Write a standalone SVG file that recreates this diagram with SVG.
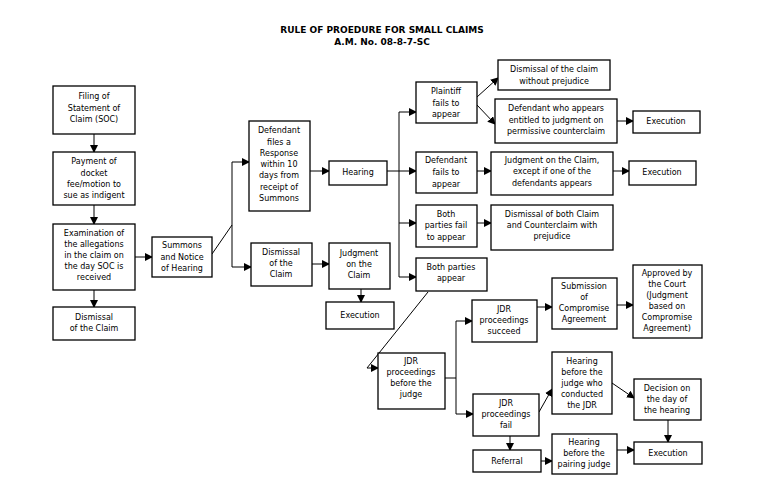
<svg xmlns="http://www.w3.org/2000/svg" width="768" height="503" viewBox="0 0 768 503">
<style>
rect{fill:#fff;stroke:#000;stroke-width:1.3}
text{font-family:"DejaVu Sans",sans-serif;font-size:8px;fill:#000;text-anchor:middle}
.t{font-weight:bold;font-size:9px}
#c line,#c polyline{stroke:#000;stroke-width:1;fill:none}
.a{marker-end:url(#ah)}
</style>
<defs><marker id="ah" markerWidth="8" markerHeight="8" refX="7" refY="4" orient="auto" markerUnits="userSpaceOnUse"><path d="M0,0L8,4L0,8Z" fill="#000"/></marker></defs>
<rect x="0" y="0" width="768" height="503" style="stroke:none"/>
<text class="t" x="382" y="33">RULE OF PROEDURE FOR SMALL CLAIMS</text>
<text class="t" x="382" y="45">A.M. No. 08-8-7-SC</text>
<g id="c">
<line class="a" x1="94" y1="134" x2="94" y2="152"/>
<line class="a" x1="94" y1="205" x2="94" y2="224"/>
<line class="a" x1="94" y1="290" x2="94" y2="307"/>
<line class="a" x1="135" y1="257" x2="152" y2="257"/>
<polyline points="212,254 232,225"/>
<polyline points="232,162 232,267"/>
<line class="a" x1="232" y1="162" x2="249" y2="162"/>
<line class="a" x1="232" y1="267" x2="251" y2="267"/>
<line class="a" x1="310" y1="171" x2="329" y2="171"/>
<line class="a" x1="312" y1="264" x2="329" y2="264"/>
<line class="a" x1="361" y1="289" x2="361" y2="302"/>
<polyline points="387,171 399,171"/>
<polyline points="399,112 399,277"/>
<line class="a" x1="399" y1="112" x2="416" y2="112"/>
<line class="a" x1="399" y1="171" x2="416" y2="171"/>
<line class="a" x1="399" y1="223" x2="416" y2="223"/>
<line class="a" x1="399" y1="277" x2="416" y2="277"/>
<line class="a" x1="477" y1="97" x2="498" y2="78"/>
<line class="a" x1="477" y1="105" x2="495" y2="124"/>
<line class="a" x1="617" y1="121" x2="633" y2="121"/>
<line class="a" x1="477" y1="171" x2="491" y2="171"/>
<line class="a" x1="613" y1="171" x2="629" y2="171"/>
<line class="a" x1="477" y1="223" x2="491" y2="223"/>
<polyline points="428,292 367,368"/>
<line class="a" x1="367" y1="368" x2="378" y2="368"/>
<polyline points="445,378 456,378"/>
<polyline points="456,321 456,414"/>
<line class="a" x1="456" y1="321" x2="472" y2="321"/>
<line class="a" x1="456" y1="414" x2="473" y2="414"/>
<line class="a" x1="537" y1="307" x2="552" y2="307"/>
<line class="a" x1="617" y1="305" x2="633" y2="305"/>
<line class="a" x1="539" y1="412" x2="552" y2="389"/>
<line class="a" x1="612" y1="383" x2="634" y2="398"/>
<line class="a" x1="668" y1="420" x2="668" y2="442"/>
<line class="a" x1="510" y1="436" x2="510" y2="450"/>
<line class="a" x1="541" y1="461" x2="552" y2="461"/>
<line class="a" x1="617" y1="450" x2="634" y2="450"/>
</g>
<g id="filing"><rect x="53" y="86" width="82" height="48"/><text x="94" y="99">Filing of</text><text x="94" y="111">Statement of</text><text x="94" y="122">Claim (SOC)</text></g>
<g id="payment"><rect x="53" y="152" width="82" height="53"/><text x="94" y="164">Payment of</text><text x="94" y="176">docket</text><text x="94" y="187">fee/motion to</text><text x="94" y="198">sue as indigent</text></g>
<g id="exam"><rect x="53" y="224" width="82" height="66"/><text x="94" y="236">Examination of</text><text x="94" y="247">the allegations</text><text x="94" y="258">in the claim on</text><text x="94" y="269">the day SOC is</text><text x="94" y="280">received</text></g>
<g id="dismiss1"><rect x="53" y="307" width="82" height="33"/><text x="94" y="320">Dismissal</text><text x="94" y="331">of the Claim</text></g>
<g id="summons"><rect x="152" y="237" width="60" height="40"/><text x="182" y="248">Summons</text><text x="182" y="260">and Notice</text><text x="182" y="271">of Hearing</text></g>
<g id="response"><rect x="249" y="121" width="61" height="90"/><text x="279" y="133">Defendant</text><text x="279" y="145">files a</text><text x="279" y="156">Response</text><text x="279" y="167">within 10</text><text x="279" y="178">days from</text><text x="279" y="190">receipt of</text><text x="279" y="201">Summons</text></g>
<g id="hearing"><rect x="329" y="161" width="58" height="24"/><text x="358" y="175">Hearing</text></g>
<g id="dismiss2"><rect x="251" y="243" width="61" height="43"/><text x="281" y="255">Dismissal</text><text x="281" y="266">of the</text><text x="281" y="277">Claim</text></g>
<g id="judgment"><rect x="329" y="243" width="61" height="46"/><text x="359" y="256">Judgment</text><text x="359" y="267">on the</text><text x="359" y="278">Claim</text></g>
<g id="exec0"><rect x="326" y="302" width="68" height="27"/><text x="360" y="318">Execution</text></g>
<g id="pfail"><rect x="416" y="82" width="61" height="41"/><text x="446" y="94">Plaintiff</text><text x="446" y="106">fails to</text><text x="446" y="117">appear</text></g>
<g id="dwp"><rect x="498" y="60" width="112" height="30"/><text x="554" y="72">Dismissal of the claim</text><text x="554" y="84">without prejudice</text></g>
<g id="dwa"><rect x="495" y="99" width="122" height="44"/><text x="556" y="111">Defendant who appears</text><text x="556" y="123">entitled to judgment on</text><text x="556" y="134">permissive counterclaim</text></g>
<g id="exec1"><rect x="633" y="111" width="67" height="22"/><text x="666" y="124">Execution</text></g>
<g id="dfail"><rect x="416" y="152" width="61" height="41"/><text x="446" y="163">Defendant</text><text x="446" y="175">fails to</text><text x="446" y="187">appear</text></g>
<g id="jc"><rect x="491" y="152" width="122" height="43"/><text x="552" y="163">Judgment on the Claim,</text><text x="552" y="174">except if one of the</text><text x="552" y="186">defendants appears</text></g>
<g id="exec2"><rect x="629" y="161" width="67" height="24"/><text x="662" y="175">Execution</text></g>
<g id="bfail"><rect x="416" y="205" width="61" height="42"/><text x="446" y="217">Both</text><text x="446" y="228">parties fail</text><text x="446" y="240">to appear</text></g>
<g id="dboth"><rect x="491" y="205" width="122" height="45"/><text x="552" y="217">Dismissal of both Claim</text><text x="552" y="228">and Counterclaim with</text><text x="552" y="239">prejudice</text></g>
<g id="bappear"><rect x="416" y="258" width="71" height="33"/><text x="451" y="270">Both parties</text><text x="451" y="281">appear</text></g>
<g id="jdr"><rect x="378" y="353" width="67" height="56"/><text x="411" y="364">JDR</text><text x="411" y="375">proceedings</text><text x="411" y="386">before the</text><text x="411" y="397">judge</text></g>
<g id="jsucc"><rect x="472" y="300" width="65" height="42"/><text x="504" y="312">JDR</text><text x="504" y="323">proceedings</text><text x="504" y="334">succeed</text></g>
<g id="submission"><rect x="552" y="278" width="65" height="51"/><text x="584" y="289">Submission</text><text x="584" y="300">of</text><text x="584" y="311">Compromise</text><text x="584" y="322">Agreement</text></g>
<g id="approved"><rect x="633" y="265" width="69" height="73"/><text x="667" y="276">Approved by</text><text x="667" y="287">the Court</text><text x="667" y="298">(Judgment</text><text x="667" y="309">based on</text><text x="667" y="320">Compromise</text><text x="667" y="331">Agreement)</text></g>
<g id="jfail"><rect x="473" y="394" width="66" height="42"/><text x="506" y="406">JDR</text><text x="506" y="417">proceedings</text><text x="506" y="428">fail</text></g>
<g id="hjudge"><rect x="552" y="352" width="60" height="62"/><text x="582" y="364">Hearing</text><text x="582" y="375">before the</text><text x="582" y="386">judge who</text><text x="582" y="397">conducted</text><text x="582" y="408">the JDR</text></g>
<g id="decision"><rect x="634" y="379" width="67" height="41"/><text x="667" y="391">Decision on</text><text x="667" y="402">the day of</text><text x="667" y="413">the hearing</text></g>
<g id="referral"><rect x="473" y="450" width="68" height="22"/><text x="507" y="464">Referral</text></g>
<g id="hpair"><rect x="552" y="434" width="65" height="40"/><text x="584" y="445">Hearing</text><text x="584" y="456">before the</text><text x="584" y="467">pairing judge</text></g>
<g id="exec3"><rect x="634" y="442" width="68" height="22"/><text x="668" y="456">Execution</text></g>
</svg>
